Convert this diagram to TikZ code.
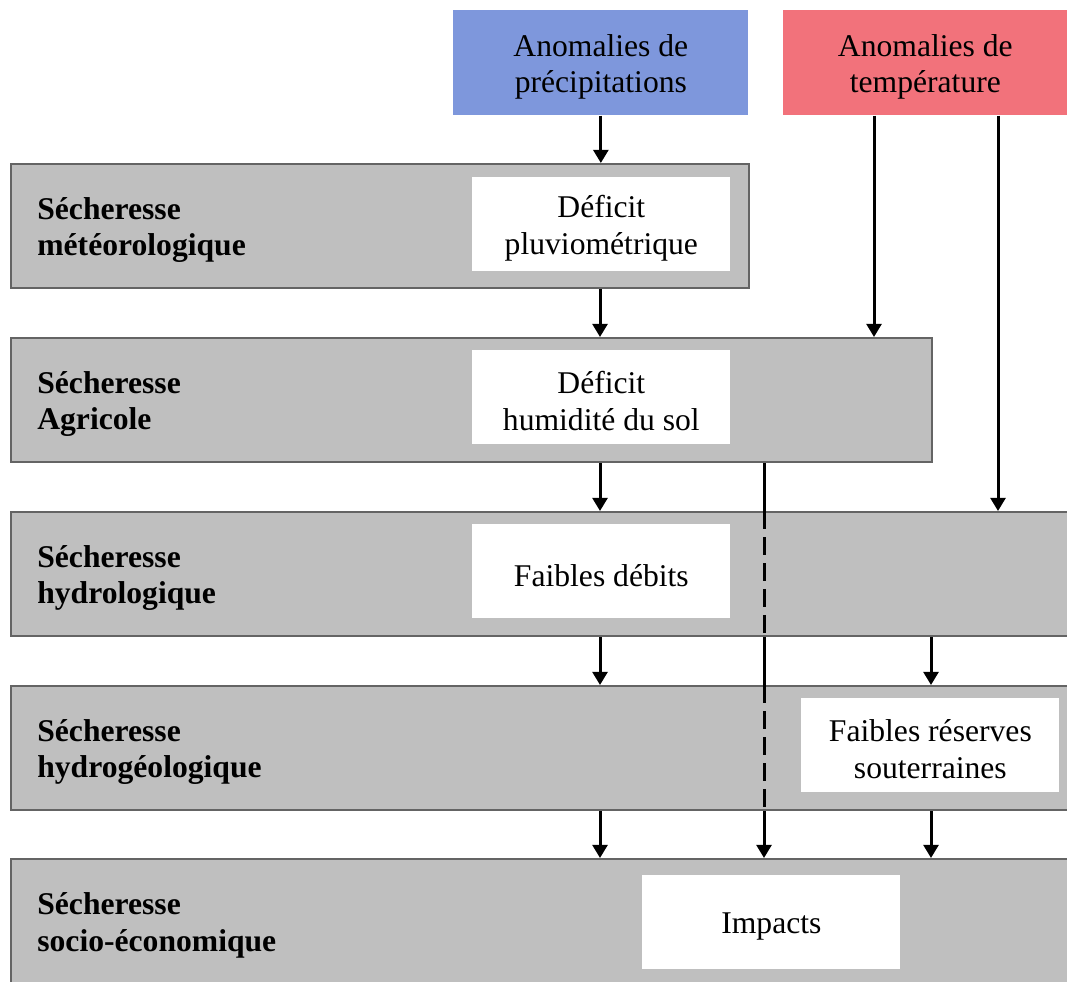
\documentclass[tikz,border=0pt]{standalone}
\usepackage{fontspec}
\setmainfont{Liberation Serif}
\usepackage{tikz}
\usetikzlibrary{arrows.meta}
\definecolor{precipblue}{RGB}{126,151,220}
\definecolor{tempred}{RGB}{242,114,123}
\definecolor{bandgray}{RGB}{191,191,191}
\definecolor{bandline}{RGB}{100,100,100}
\newcommand{\px}{0.02cm}
\tikzset{band/.style={rectangle, draw=bandline, line width=1.2pt, fill=bandgray, anchor=north west, inner sep=0pt, minimum height=124*\px}}
\tikzset{bandlabel/.style={anchor=west, align=left, inner sep=0pt, font=\bfseries\fontsize{18}{21}\selectfont}}
\tikzset{whitebox/.style={rectangle, fill=white, anchor=north west, inner sep=0pt, minimum width=258*\px, minimum height=94*\px}}
\tikzset{topbox/.style={rectangle, anchor=north west, inner sep=0pt, minimum height=105*\px}}
\tikzset{boxtext/.style={align=center, inner sep=0pt, yshift=-4*\px, font=\fontsize{18}{21}\selectfont}}
\tikzset{arr/.style={line width=1.7pt, -{Triangle[width=8.5pt,length=7.5pt]}}}
\tikzset{dashseg/.style={line width=1.7pt, dash pattern=on 0.36cm off 0.16cm}}

\begin{document}
\begin{tikzpicture}[x=\px,y=-\px]
  \useasboundingbox (0,0) rectangle (1067,981);
  \clip (0,0) rectangle (1067,981);
  % bands
  \foreach \y/\w/\name/\lab in {
    163/738/meteo/{Sécheresse\\météorologique},
    337/921/agri/{Sécheresse\\Agricole},
    511/1080/hydro/{Sécheresse\\hydrologique},
    685/1080/hydrogeo/{Sécheresse\\hydrogéologique},
    858/1080/socio/{Sécheresse\\socio-économique}%
  } {
    \node[band, minimum width=\w*\px] (\name) at (10,\y) {};
    \node[bandlabel] (\name-lab) at (37,\y+67) {\lab};
  }
  % boxes
  \foreach \x/\y/\name/\lab in {
    472/177/pluvio/{Déficit\\pluviométrique},
    472/350/humid/{Déficit\\humidité du sol},
    472/524/debits/{Faibles débits},
    801/698/reserves/{Faibles réserves\\souterraines},
    642/875/impacts/{Impacts}%
  } {
    \node[whitebox] (\name) at (\x,\y) {};
    \node[boxtext] (\name-txt) at (\name.center) {\lab};
  }
  \node[topbox, fill=precipblue, minimum width=295*\px] (precip) at (453,10) {};
  \node[boxtext] (precip-txt) at (precip.center) {Anomalies de\\précipitations};
  \node[topbox, fill=tempred, minimum width=284*\px] (temp) at (783,10) {};
  \node[boxtext] (temp-txt) at (temp.center) {Anomalies de\\température};
  % arrow columns
  \coordinate (cA) at (600,0);
  \coordinate (cB) at (764,0);
  \coordinate (cC) at (874,0);
  \coordinate (cD) at (931,0);
  \coordinate (cE) at (998,0);
  \draw[arr] (precip.south) -- (precip.south |- meteo.north);
  \foreach \u/\v in {meteo/agri, agri/hydro, hydro/hydrogeo, hydrogeo/socio}{
    \draw[arr] (cA |- \u.south) -- (cA |- \v.north);
  }
  \draw[arr] (cC |- temp.south) -- (cC |- agri.north);
  \draw[arr] (cE |- temp.south) -- (cE |- hydro.north);
  \draw[arr] (cD |- hydro.south) -- (cD |- hydrogeo.north);
  \draw[arr] (cD |- hydrogeo.south) -- (cD |- socio.north);
  % dashed path to impacts
  \draw[line width=1.7pt] (cB |- agri.south) -- (cB |- hydro.north);
  \draw[dashseg] (cB |- hydro.north) -- (cB |- hydro.south);
  \draw[line width=1.7pt] (cB |- hydro.south) -- (cB |- hydrogeo.north);
  \draw[dashseg] (cB |- hydrogeo.north) -- (cB |- hydrogeo.south);
  \draw[arr] (cB |- hydrogeo.south) -- (cB |- socio.north);
\end{tikzpicture}
\end{document}
